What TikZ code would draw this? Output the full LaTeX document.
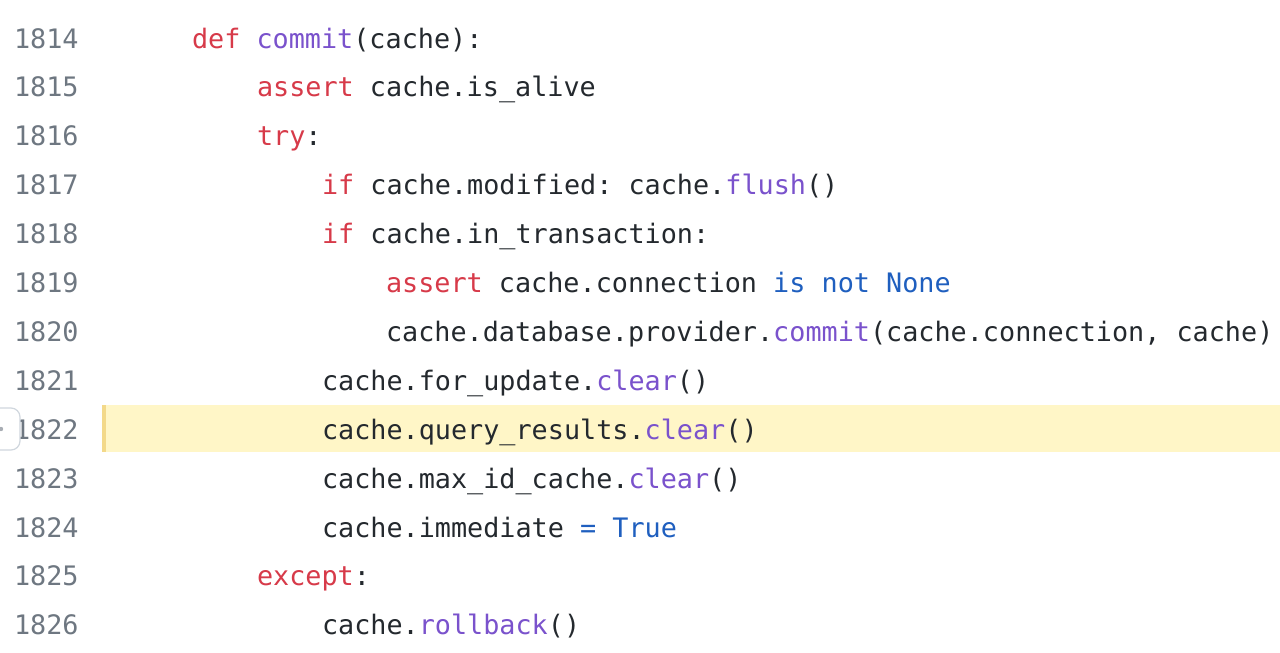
\documentclass[tikz,border=0pt]{standalone}
\usepackage{fontspec}
\setmonofont{DejaVu Sans Mono}
\definecolor{kw}{HTML}{D73A49}
\definecolor{fn}{HTML}{7A52CC}
\definecolor{bl}{HTML}{1F5FBF}
\definecolor{tx}{HTML}{24292E}
\definecolor{ln}{HTML}{6E7781}
\definecolor{hl}{HTML}{FFF6C7}
\definecolor{hlb}{HTML}{F3D98A}
\definecolor{btn}{HTML}{D0D7DE}
\newcommand{\K}[1]{\textcolor{kw}{#1}}
\newcommand{\F}[1]{\textcolor{fn}{#1}}
\newcommand{\B}[1]{\textcolor{bl}{#1}}
\begin{document}
\begin{tikzpicture}[x=1pt,y=-1pt,
  codeline/.style={anchor=base west,inner sep=0pt,outer sep=0pt,text=tx,
    font=\ttfamily\fontsize{26.8pt}{48.9pt}\selectfont},
  lnum/.style={anchor=base west,inner sep=0pt,outer sep=0pt,text=ln,
    font=\ttfamily\fontsize{26.8pt}{48.9pt}\selectfont}]
\useasboundingbox (0,0) rectangle (1280,653);
\clip (0,0) rectangle (1280,653);
\fill[white] (0,0) rectangle (1280,653);
% highlight of line 1822
\fill[hl] (102,405) rectangle (1280,452);
\fill[hlb] (102,405) rectangle (106,452);
% line numbers
\foreach \n [count=\i from 0] in {1814,...,1826}
  \node[lnum] (n\n) at (14,{48+48.9*\i}) {\n};
% code lines
\node[codeline] (c1814) at (192,48.0)  {\K{def} \F{commit}(cache):};
\node[codeline] (c1815) at (257,96.9)  {\K{assert} cache.is\_alive};
\node[codeline] (c1816) at (257,145.8) {\K{try}:};
\node[codeline] (c1817) at (322,194.7) {\K{if} cache.modified: cache.\F{flush}()};
\node[codeline] (c1818) at (322,243.6) {\K{if} cache.in\_transaction:};
\node[codeline] (c1819) at (386,292.5) {\K{assert} cache.connection \B{is} \B{not} \B{None}};
\node[codeline] (c1820) at (386,341.4) {cache.database.provider.\F{commit}(cache.connection, cache)};
\node[codeline] (c1821) at (322,390.3) {cache.for\_update.\F{clear}()};
\node[codeline] (c1822) at (322,439.2) {cache.query\_results.\F{clear}()};
\node[codeline] (c1823) at (322,488.1) {cache.max\_id\_cache.\F{clear}()};
\node[codeline] (c1824) at (322,537.0) {cache.immediate \B{=} \B{True}};
\node[codeline] (c1825) at (257,585.9) {\K{except}:};
\node[codeline] (c1826) at (322,634.8) {cache.\F{rollback}()};
% fold button at left edge
\draw[btn,fill=white,line width=1.2pt,rounded corners=9pt] (-22,408) rectangle (20,450);
\fill[ln!60] (1,429) circle (2.2);
\end{tikzpicture}
\end{document}
